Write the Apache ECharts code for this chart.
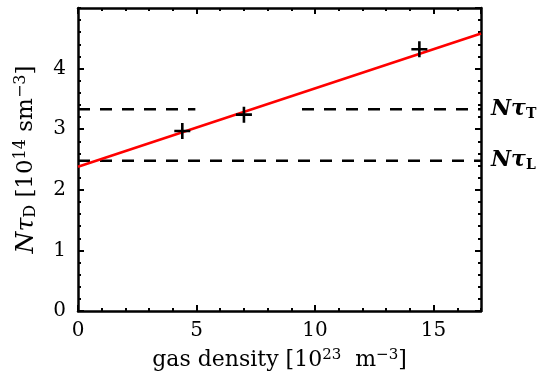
<!DOCTYPE html>
<html>
<head>
<meta charset="utf-8">
<script src="https://cdn.jsdelivr.net/npm/echarts@6/dist/echarts.min.js"></script>
<style>
  html, body { margin: 0; padding: 0; background: #fff; }
  #chart { width: 551px; height: 382px; }
</style>
</head>
<body>
<div id="chart"></div>
<script>
// measured points (gas density, N tau_D)
const densities = [4.4, 7.0, 14.4];
const nTauD = [2.97, 3.24, 4.32];
// linear fit, drawn end to end
const fitX = [0, 17];
const fitY = [2.38, 4.58];
// threshold levels
const nTauT = 3.33;
const nTauL = 2.48;
const nTauTSegments = [[0, 4.95], [9.45, 17]];

const serif = '"DejaVu Serif", "Liberation Serif", serif';
const plus = 'path://M-1.3,-8H1.3V8H-1.3Z M-8,-1.3H8V1.3H-8Z';
const dash = [12, 10];

const chart = echarts.init(document.getElementById('chart'));

const txt = (extra) => Object.assign({ fontFamily: serif, color: '#000' }, extra);

// major axis (with line) or minor overlay (ticks only)
function axis(dim, position, minor, extra) {
    const isX = dim === 'x';
    return Object.assign({
        type: 'value', min: 0, max: isX ? 17 : 5,
        interval: minor ? (isX ? 1 : 0.2) : (isX ? 5 : 1),
        position: position,
        axisLine: { show: !minor, onZero: false, lineStyle: { color: '#000', width: 2.5 } },
        axisTick: { show: true, inside: true, length: minor ? 3 : 6,
            lineStyle: { color: '#000', width: 2 } },
        axisLabel: { show: false },
        splitLine: { show: false }
    }, extra || {});
}

const option = {
    animation: false,
    grid: { left: 78, right: 70, top: 8, bottom: 71 },
    xAxis: [
        axis('x', 'bottom', false, {
            axisLabel: { show: true, fontFamily: serif, fontSize: 20, color: '#000', margin: 10,
                showMaxLabel: false },
            name: '{t|gas density [10}{s|23}{t|  m}{s|−3}{t|]}',
            nameLocation: 'middle', nameGap: 37,
            nameTextStyle: { rich: {
                t: txt({ fontSize: 22 }),
                s: txt({ fontSize: 15, verticalAlign: 'top', padding: [0, 0, 10, 0] })
            } }
        }),
        axis('x', 'top', false),
        axis('x', 'bottom', true),
        axis('x', 'top', true)
    ],
    yAxis: [
        axis('y', 'left', false, {
            axisLabel: { show: true, fontFamily: serif, fontSize: 20, color: '#000', margin: 12,
                showMaxLabel: false },
            name: '{i|Nτ}{d|D}{t| [10}{s|14}{t| sm}{s|−3}{t|]}',
            nameLocation: 'middle', nameGap: 39, nameRotate: 90,
            nameTextStyle: { rich: {
                i: txt({ fontSize: 25, fontStyle: 'italic' }),
                d: txt({ fontSize: 16, verticalAlign: 'bottom', padding: [8, 0, 0, 0] }),
                t: txt({ fontSize: 23 }),
                s: txt({ fontSize: 16, verticalAlign: 'top', padding: [0, 0, 10, 0] })
            } }
        }),
        axis('y', 'right', false),
        axis('y', 'left', true),
        axis('y', 'right', true)
    ],
    series: [
        {
            type: 'line', name: 'NtauL',
            data: [[0, nTauL], [17, nTauL]],
            symbol: 'none', silent: true,
            lineStyle: { color: '#000', width: 2.5, type: dash },
            endLabel: { show: true, distance: 10, formatter: '{i|Nτ}{d|L}',
                rich: {
                    i: txt({ fontSize: 22, fontStyle: 'italic', fontWeight: 'bold' }),
                    d: txt({ fontSize: 14, fontWeight: 'bold', verticalAlign: 'bottom', padding: [10, 0, 0, 0] })
                } }
        },
        {
            type: 'line', name: 'NtauT1',
            data: [[nTauTSegments[0][0], nTauT], [nTauTSegments[0][1], nTauT]],
            symbol: 'none', silent: true,
            lineStyle: { color: '#000', width: 2.5, type: dash }
        },
        {
            type: 'line', name: 'NtauT2',
            data: [[nTauTSegments[1][0], nTauT], [nTauTSegments[1][1], nTauT]],
            symbol: 'none', silent: true,
            lineStyle: { color: '#000', width: 2.5, type: dash },
            endLabel: { show: true, distance: 10, formatter: '{i|Nτ}{d|T}',
                rich: {
                    i: txt({ fontSize: 22, fontStyle: 'italic', fontWeight: 'bold' }),
                    d: txt({ fontSize: 14, fontWeight: 'bold', verticalAlign: 'bottom', padding: [10, 0, 0, 0] })
                } }
        },
        {
            type: 'line', name: 'fit',
            data: fitX.map((x, i) => [x, fitY[i]]),
            symbol: 'none', silent: true,
            lineStyle: { color: '#ff0000', width: 2.5 }
        },
        {
            type: 'scatter', name: 'data',
            data: densities.map((x, i) => [x, nTauD[i]]),
            symbol: plus, symbolSize: 16,
            itemStyle: { color: '#000', opacity: 1 },
            z: 5
        }
    ]
};

chart.setOption(option);
</script>
</body>
</html>
